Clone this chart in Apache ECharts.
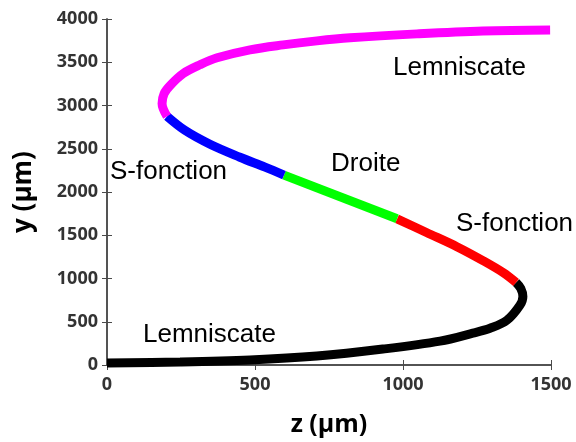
<!DOCTYPE html>
<html>
<head>
<meta charset="utf-8">
<script src="https://cdn.jsdelivr.net/npm/echarts@6/dist/echarts.min.js"></script>
<style>html,body{margin:0;padding:0;background:#fff;}#c{width:576px;height:442px;}</style>
</head>
<body>
<div id="c"></div>
<script>
// Segment data (z in µm, y in µm)
var zBlack = [0, 247, 483, 709, 932, 1125, 1236, 1294, 1351, 1395, 1405, 1398, 1382];
var yBlack = [23, 34, 57, 103, 184, 276, 368, 425, 517, 690, 793, 885, 954];
var zRed = [1382, 1338, 1270, 1182, 1081, 980];
var yRed = [954, 1069, 1207, 1368, 1529, 1690];
var zGreen = [980, 598];
var yGreen = [1690, 2195];
var zBlue = [598, 534, 449, 348, 263, 203];
var yBlue = [2195, 2287, 2402, 2552, 2713, 2874];
var zMagenta = [203, 186, 193, 213, 257, 314, 372, 483, 595, 709, 821, 1047, 1270, 1497];
var yMagenta = [2874, 3023, 3138, 3230, 3368, 3471, 3552, 3644, 3701, 3747, 3782, 3828, 3862, 3874];
var xTicks = [0, 500, 1000, 1500];
var yTicks = [0, 500, 1000, 1500, 2000, 2500, 3000, 3500, 4000];

function pts(zs, ys) { return zs.map(function (z, i) { return [z, ys[i]]; }); }

var chart = echarts.init(document.getElementById('c'), null, {renderer: 'canvas'});
var axisCol = '#4a4a4a';
var tickFont = {fontFamily: 'Open Sans', fontWeight: 'bold', fontSize: 18, color: '#333',
  formatter: function (v) { return String(v); }};
function seg(name, zs, ys, color, smooth) {
  return {
    type: 'line', name: name, data: pts(zs, ys), xAxisIndex: 0, yAxisIndex: 0,
    showSymbol: false, smooth: smooth, animation: false,
    lineStyle: {color: color, width: 9}
  };
}
var labelFont = '26px "Liberation Sans"';
function lbl(text, x, y) {
  return {type: 'text', style: {text: text, x: x, y: y, font: labelFont, fill: '#000',
    textAlign: 'left', textVerticalAlign: 'middle', verticalAlign: 'middle'}};
}
chart.setOption({
  animation: false,
  grid: {left: 107, right: 25, top: 19, bottom: 75},
  xAxis: [{
    type: 'value', min: 0, max: 1500, interval: 500, position: 'bottom',
    axisLine: {lineStyle: {color: axisCol, width: 1.5}},
    axisTick: {inside: true, length: 5, lineStyle: {color: axisCol}},
    splitLine: {show: false},
    axisLabel: Object.assign({margin: 11}, tickFont),
    name: 'z (µm)', nameLocation: 'middle', nameGap: 47,
    nameTextStyle: {fontFamily: 'Open Sans', fontWeight: 'bold', fontSize: 25, color: '#000'}
  }, {
    type: 'value', min: 0, max: 1500, interval: 500, position: 'top',
    axisLine: {lineStyle: {color: axisCol, width: 1.5}},
    axisTick: {inside: true, length: 5, lineStyle: {color: axisCol}},
    axisLabel: {show: false}, splitLine: {show: false}
  }],
  yAxis: [{
    type: 'value', min: 0, max: 4000, interval: 500, position: 'left',
    axisLine: {show: true, lineStyle: {color: axisCol, width: 1.5}},
    axisTick: {show: true, inside: true, length: 5, lineStyle: {color: axisCol}},
    splitLine: {show: false},
    axisLabel: Object.assign({margin: 9}, tickFont),
    name: 'y (µm)', nameLocation: 'middle', nameGap: 70, nameRotate: 90,
    nameTextStyle: {fontFamily: 'Open Sans', fontWeight: 'bold', fontSize: 26, color: '#000'}
  }, {
    type: 'value', min: 0, max: 4000, interval: 500, position: 'right',
    axisLine: {show: true, lineStyle: {color: axisCol, width: 1.5}},
    axisTick: {show: true, inside: true, length: 5, lineStyle: {color: axisCol}},
    axisLabel: {show: false}, splitLine: {show: false}
  }],
  series: [
    seg('Lemniscate bas', zBlack, yBlack, '#000000', 0.35),
    seg('S-fonction bas', zRed, yRed, '#ff0000', 0.35),
    seg('Droite', zGreen, yGreen, '#00ff00', false),
    seg('S-fonction haut', zBlue, yBlue, '#0000ff', 0.35),
    seg('Lemniscate haut', zMagenta, yMagenta, '#ff00ff', 0.35)
  ],
  graphic: [
    lbl('Lemniscate', 393, 68),
    lbl('S-fonction', 110, 172),
    lbl('Droite', 331, 164),
    lbl('S-fonction', 456, 224),
    lbl('Lemniscate', 143, 335)
  ]
});
</script>
</body>
</html>
